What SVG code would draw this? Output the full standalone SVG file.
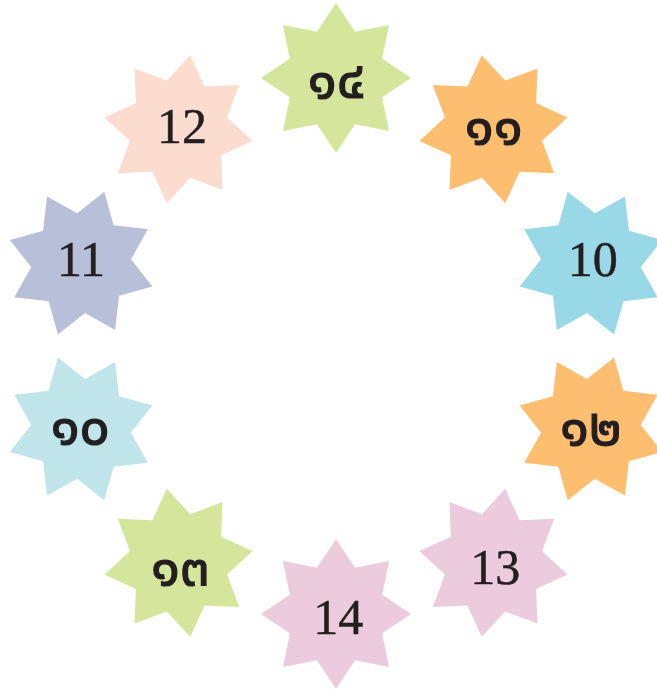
<svg xmlns="http://www.w3.org/2000/svg" xmlns:xlink="http://www.w3.org/1999/xlink" width="657" height="689" viewBox="0 0 657 689">
<style>
.lat{font-family:"Liberation Serif","Times New Roman",serif;font-size:50px;fill:#231f20;text-anchor:middle;stroke:#231f20;stroke-width:0.5}
.th{font-family:"Noto Sans Thai","Noto Sans","DejaVu Sans",sans-serif;font-size:53px;font-weight:normal;fill:#231f20;stroke:#231f20;stroke-width:1.2;text-anchor:middle}
.green{fill:#d5e59b}.peach{fill:#fddcd0}.peri{fill:#b8bfd8}.pcyan{fill:#bfe4e9}.pink{fill:#ebcbdc}.orange{fill:#fdbe70}.cyan{fill:#98d8e7}
</style>
<defs>
<polygon id="star" points="0,-75 19.13,-46.19 53.03,-53.03 46.19,-19.13 75,0 46.19,19.13 53.03,53.03 19.13,46.19 0,75 -19.13,46.19 -53.03,53.03 -46.19,19.13 -75,0 -46.19,-19.13 -53.03,-53.03 -19.13,-46.19"/>
</defs>
<rect width="657" height="689" fill="#ffffff"/>
<g id="n-top"><use xlink:href="#star" href="#star" class="green" transform="translate(336,78)"/><text class="th" x="336.5" y="97.5">๑๔</text></g>
<g id="n-36"><use xlink:href="#star" href="#star" class="orange" transform="translate(493.5,129.2) rotate(36)"/><text class="th" x="493.7" y="144">๑๑</text></g>
<g id="n-72"><use xlink:href="#star" href="#star" class="cyan" transform="translate(590.9,263.2) rotate(72)"/><text class="lat" x="592.8" y="275.7">10</text></g>
<g id="n-108"><use xlink:href="#star" href="#star" class="orange" transform="translate(590.9,428.8) rotate(108)"/><text class="th" x="590.8" y="444.5">๑๒</text></g>
<g id="n-144"><use xlink:href="#star" href="#star" class="pink" transform="translate(493.5,562.8) rotate(144)"/><text class="lat" x="495.3" y="584.3">13</text></g>
<g id="n-180"><use xlink:href="#star" href="#star" class="pink" transform="translate(336,614)"/><text class="lat" x="338.3" y="634">14</text></g>
<g id="n-216"><use xlink:href="#star" href="#star" class="green" transform="translate(178.5,562.8) rotate(216)"/><text class="th" x="180.2" y="585">๑๓</text></g>
<g id="n-252"><use xlink:href="#star" href="#star" class="pcyan" transform="translate(81.1,428.8) rotate(252)"/><text class="th" x="80.3" y="444">๑๐</text></g>
<g id="n-288"><use xlink:href="#star" href="#star" class="peri" transform="translate(81.1,263.2) rotate(288)"/><text class="lat" x="81" y="275.7">11</text></g>
<g id="n-324"><use xlink:href="#star" href="#star" class="peach" transform="translate(178.5,129.2) rotate(324)"/><text class="lat" x="182" y="142.7">12</text></g>
</svg>
